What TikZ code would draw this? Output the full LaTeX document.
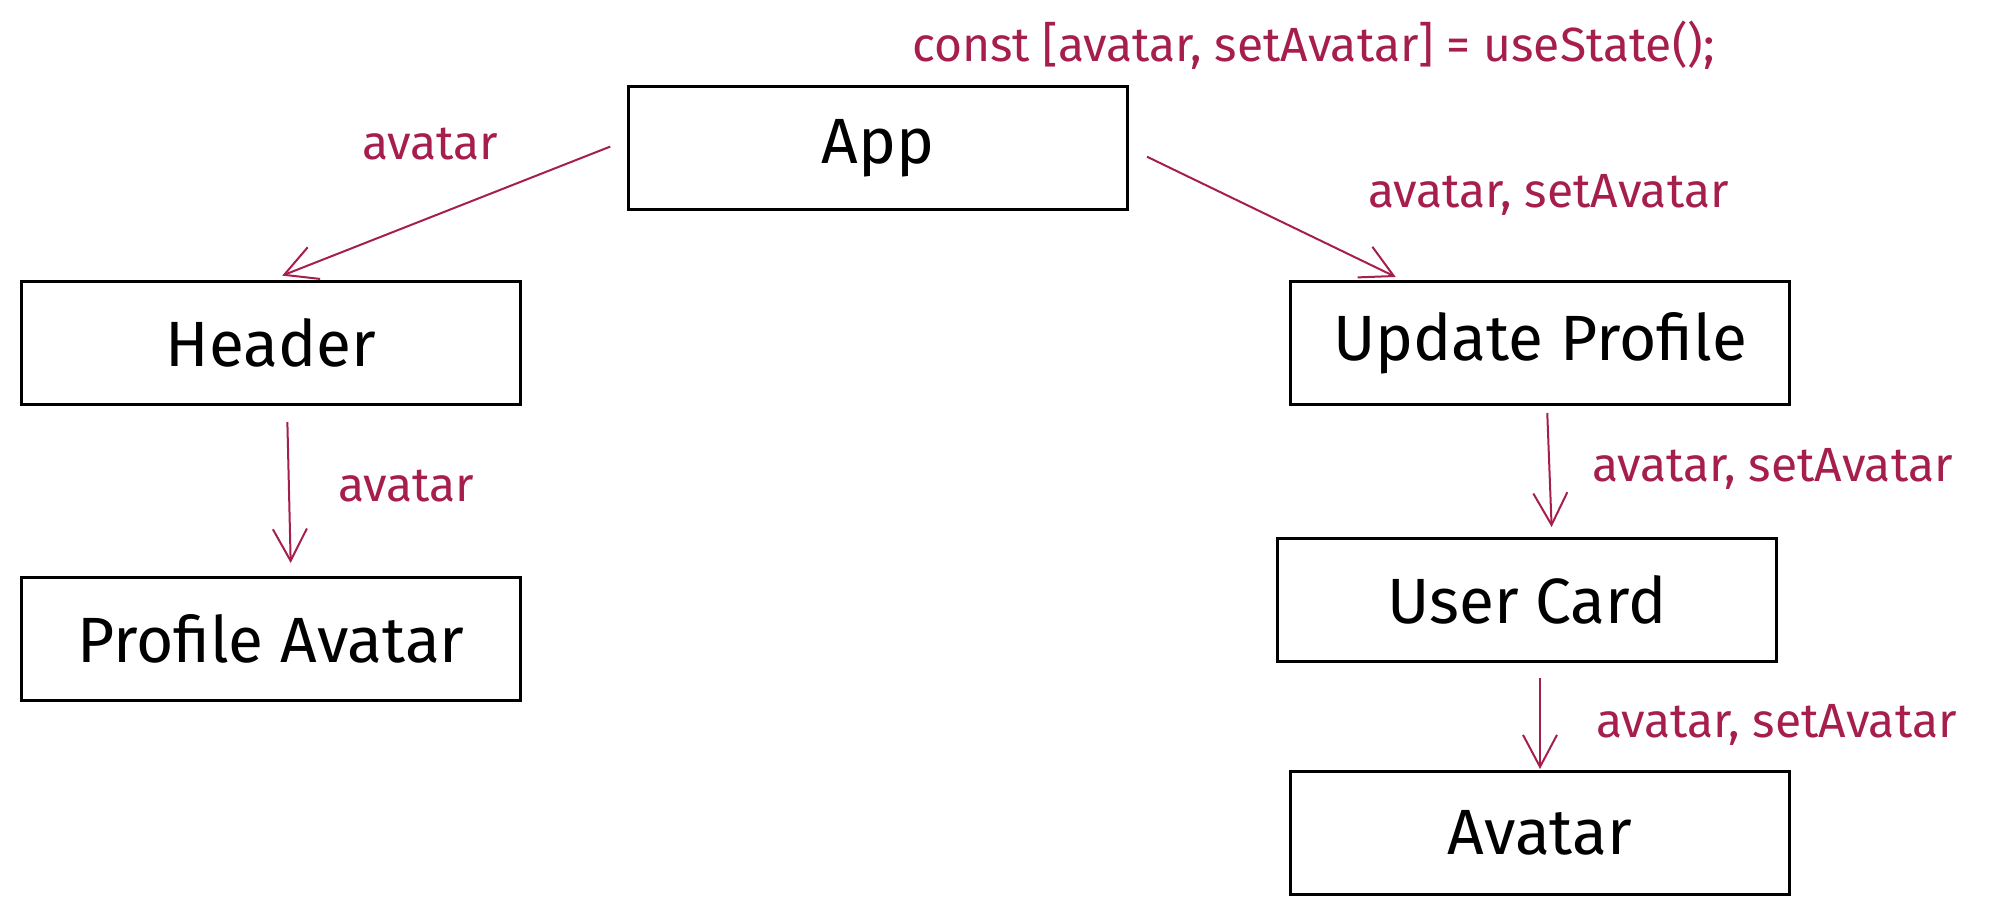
\documentclass[tikz,border=0pt]{standalone}
\usepackage{fontspec}
\setmainfont{Fira Sans}
\usetikzlibrary{arrows.meta}
\definecolor{propred}{HTML}{A61E4D}

\begin{document}
\begin{tikzpicture}[x=1pt,y=-1pt]

\tikzset{box/.style = {shape=rectangle,draw,line width=3pt,minimum width=499pt,minimum height=123pt,font=\fontsize{64}{66}\selectfont}}
\tikzset{edge/.style = {-{Straight Barb[length=32pt,width=34pt]},draw=propred,line width=2pt}}
\tikzset{prop/.style = {text=propred,anchor=west,inner sep=0pt,font=\fontsize{48}{50}\selectfont}}
\useasboundingbox (0,0) rectangle (1989,911);
%boxes
\node[box] (1) at (878,148) {App};
\node[box] (2) at (271,343) {Header};
\node[box] (3) at (271,639) {Profile Avatar};
\node[box] (4) at (1540,343) {Update Profile};
\node[box] (5) at (1527,600) {User Card};
\node[box] (6) at (1540,833) {Avatar};
%labels
\node[prop] (s) at (912,45) {const [avatar, setAvatar] = useState();};
\node[prop] (a) at (362,144) {avatar};
\node[prop] (b) at (1368,195) {avatar, setAvatar};
\node[prop] (c) at (338,486) {avatar};
\node[prop] (d) at (1592,469) {avatar, setAvatar};
\node[prop] (e) at (1596,725) {avatar, setAvatar};
%edges
\draw [edge, shorten <=18pt, shorten >=12pt] ([yshift=8pt]1.west) -- (2.north);
\draw [edge, shorten <=20pt, shorten >=7pt] (1.east) -- ([xshift=-138pt]4.north);
\draw [edge, shorten <=16pt, shorten >=13pt] ([xshift=16pt]2.south) -- ([xshift=20pt]3.north);
\draw [edge, shorten <=7pt, shorten >=10pt] ([xshift=7pt]4.south) -- ([xshift=25pt]5.north);
\draw [edge, shorten <=15pt, shorten >=1pt] ([xshift=13pt]5.south) -- (6.north);

\end{tikzpicture}
\end{document}
